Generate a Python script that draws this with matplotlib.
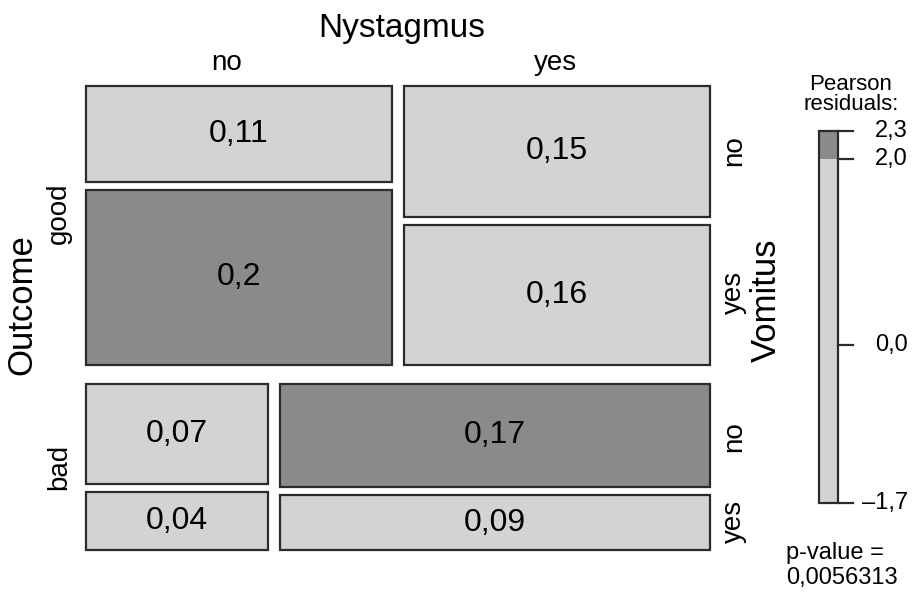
import matplotlib
matplotlib.use("Agg")
from matplotlib import pyplot as plt
from matplotlib.patches import Rectangle

plt.rcParams['font.family'] = ['Liberation Sans', 'DejaVu Sans']

outcome = ['good', 'bad']
nystagmus = ['no', 'yes']
vomitus = ['no', 'yes']
# proporciones: [outcome][nystagmus] -> [vomitus no, vomitus yes]
prop_good = [[0.11, 0.20], [0.15, 0.16]]
prop_bad = [[0.07, 0.04], [0.17, 0.09]]
etiquetas_good = [['0,11', '0,2'], ['0,15', '0,16']]
etiquetas_bad = [['0,07', '0,04'], ['0,17', '0,09']]
# celdas con residuo alto (sombra oscura)
alto_good = [[False, True], [False, False]]
alto_bad = [[False, False], [True, False]]

legend_ticks = [2.3, 2.0, 0.0, -1.7]
legend_labels = ['2,3', '2,0', '0,0', '\u20131,7']
umbral = 2.0
p_value = '0,0056313'

claro = '#d3d3d3'
oscuro = '#8a8a8a'
borde = '#2b2b2b'

fig = plt.figure(figsize=(9.13, 5.92), dpi=100)
ax = fig.add_axes([0, 0, 1, 1])
ax.set_xlim(0, 913)
ax.set_ylim(592, 0)
ax.axis('off')

# caja del mosaico (en pixeles)
izq, der, arriba, abajo = 86, 710, 86, 550
gap_fila, gap_col, gap_celda = 19, 12, 8

props = [prop_good, prop_bad]
textos = [etiquetas_good, etiquetas_bad]
altos = [alto_good, alto_bad]
total = sum(sum(sum(c) for c in fila) for fila in props)
alto_util = (abajo - arriba) - gap_fila

y0 = arriba
for i, fila in enumerate(props):
    tot_fila = sum(sum(c) for c in fila)
    h_fila = alto_util * tot_fila / total
    ancho_util = (der - izq) - gap_col
    x0 = izq
    for j, col in enumerate(fila):
        tot_col = sum(col)
        w = ancho_util * tot_col / tot_fila
        h_util = h_fila - gap_celda
        yy = y0
        for k, v in enumerate(col):
            h = h_util * v / tot_col
            color = oscuro if altos[i][j][k] else claro
            ax.add_patch(Rectangle((x0, yy), w, h, facecolor=color,
                                   edgecolor=borde, linewidth=1.6))
            ax.text(x0 + w / 2, yy + h / 2, textos[i][j][k], fontsize=23,
                    ha='center', va='center', color='black')
            yy += h + gap_celda
        x0 += w + gap_col
    y0 += h_fila + gap_fila

# etiquetas de variables
ax.text(402, 29, 'Nystagmus', fontsize=24, ha='center', va='center')
ax.text(227, 63, 'no', fontsize=20, ha='center', va='center')
ax.text(556, 63, 'yes', fontsize=20, ha='center', va='center')

ax.text(22, 305, 'Outcome', fontsize=25, ha='center', va='center', rotation=90)
ax.text(59, 213, 'good', fontsize=20, ha='center', va='center', rotation=90)
ax.text(59, 467, 'bad', fontsize=20, ha='center', va='center', rotation=90)

ax.text(766, 300, 'Vomitus', fontsize=25, ha='center', va='center', rotation=90)
for y, t in zip([151, 292, 437, 521], ['no', 'yes', 'no', 'yes']):
    ax.text(734, y, t, fontsize=20, ha='center', va='center', rotation=90)

# leyenda de residuos
bx0, bx1 = 819, 838
yb_top, yb_bot = 131, 503
vmax, vmin = legend_ticks[0], legend_ticks[-1]


def ypix(v):
    return yb_bot - (v - vmin) / (vmax - vmin) * (yb_bot - yb_top)


ax.add_patch(Rectangle((bx0, ypix(umbral)), bx1 - bx0, ypix(vmin) - ypix(umbral),
                       facecolor=claro, edgecolor='none'))
ax.add_patch(Rectangle((bx0, ypix(vmax)), bx1 - bx0, ypix(umbral) - ypix(vmax),
                       facecolor=oscuro, edgecolor='none'))
ax.add_patch(Rectangle((bx0, yb_top), bx1 - bx0, yb_bot - yb_top,
                       facecolor='none', edgecolor=borde, linewidth=1.6))
for v, lab in zip(legend_ticks, legend_labels):
    ax.plot([bx1, 853], [ypix(v), ypix(v)], color=borde, lw=1.6)
    ax.text(908, ypix(v), lab, fontsize=17, ha='right', va='center')

ax.text(851, 85, 'Pearson', fontsize=16, ha='center', va='center')
ax.text(851, 105, 'residuals:', fontsize=16, ha='center', va='center')
ax.text(786, 553, 'p-value =', fontsize=17, ha='left', va='center')
ax.text(786, 578, p_value, fontsize=17, ha='left', va='center')

plt.savefig('out.png', dpi=100)
